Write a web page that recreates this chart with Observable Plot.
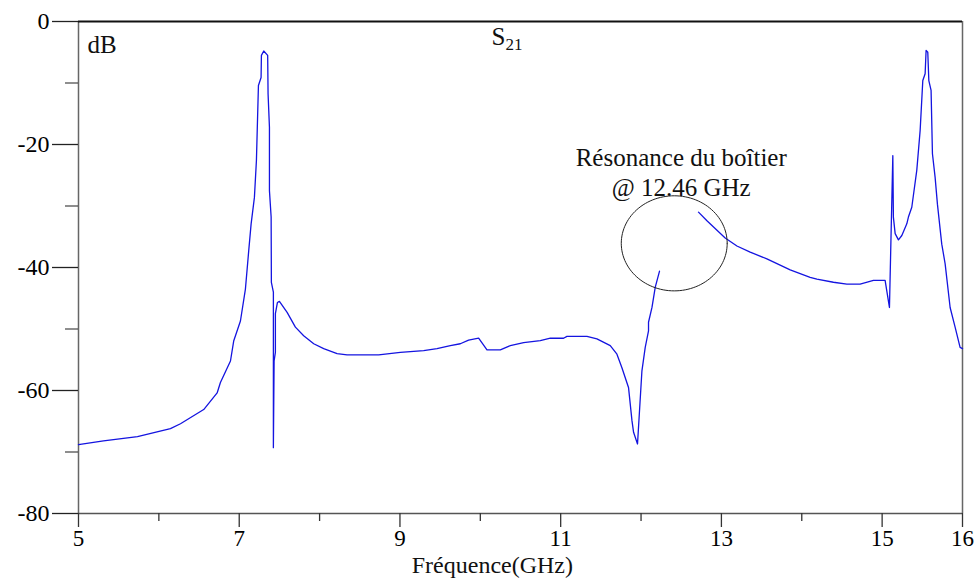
<!DOCTYPE html>
<html><head><meta charset="utf-8">
<script src="https://cdn.jsdelivr.net/npm/d3@7"></script>
<script src="https://cdn.jsdelivr.net/npm/@observablehq/plot@0.6"></script>
<style>
html,body{margin:0;padding:0;background:#fff}
svg{display:block}
</style>
</head><body><div id="chart"></div>
<script>
// Segment 1 of the S21 trace (5 GHz to about 12.23 GHz)
const freqA = [5.000,5.311,5.734,6.144,6.269,6.558,6.725,6.766,6.891,6.932,7.015,7.077,7.118,7.148,7.189,7.214,7.239,7.272,7.276,7.305,7.354,7.359,7.376,7.376,7.397,7.400,7.425,7.425,7.434,7.450,7.450,7.475,7.500,7.596,7.699,7.802,7.927,8.051,8.218,8.342,8.735,9.005,9.295,9.461,9.627,9.751,9.854,9.979,10.083,10.249,10.373,10.539,10.746,10.871,11.036,11.078,11.327,11.451,11.617,11.700,11.762,11.844,11.887,11.907,11.956,12.011,12.052,12.093,12.093,12.136,12.177,12.230];
const dbA   = [-68.8,-68.2,-67.5,-66.2,-65.4,-63.1,-60.4,-58.7,-55.2,-51.9,-48.7,-43.5,-37.3,-32.9,-28.6,-22.6,-10.4,-9.1,-5.5,-4.8,-5.5,-11.8,-17.2,-27.5,-31.8,-42.4,-44.0,-69.3,-55.2,-53.8,-47.5,-45.7,-45.5,-47.3,-49.7,-51.1,-52.4,-53.2,-54.0,-54.2,-54.2,-53.8,-53.5,-53.2,-52.7,-52.4,-51.8,-51.5,-53.4,-53.4,-52.7,-52.2,-51.9,-51.5,-51.5,-51.2,-51.2,-51.6,-52.7,-54.1,-56.3,-59.5,-64.9,-66.8,-68.7,-56.8,-53.0,-50.3,-48.9,-46.5,-43.2,-40.6];
// Segment 2 of the S21 trace (about 12.7 GHz to 16 GHz)
const freqB = [12.715,12.820,13.047,13.193,13.358,13.566,13.856,14.104,14.188,14.394,14.561,14.726,14.892,15.037,15.091,15.133,15.140,15.162,15.203,15.245,15.307,15.327,15.369,15.431,15.473,15.506,15.535,15.547,15.568,15.581,15.609,15.626,15.659,15.688,15.742,15.784,15.846,15.908,15.970,16.000];
const dbB   = [-31.0,-32.4,-35.2,-36.5,-37.5,-38.6,-40.4,-41.6,-41.9,-42.4,-42.7,-42.7,-42.1,-42.1,-46.5,-21.8,-31.8,-34.5,-35.5,-34.8,-32.9,-31.8,-30.2,-24.2,-17.7,-9.6,-8.5,-4.7,-5.0,-9.6,-11.2,-21.5,-25.3,-29.7,-36.2,-39.4,-46.5,-49.7,-53.0,-53.2];

const xMajorTicks = [5,7,9,11,13,15,16];
const xMinorTicks = [6,8,10,12,14];
const yMajorTicks = [0,-20,-40,-60,-80];
const yMinorTicks = [-10,-30,-50,-70];
const xLabel = "Fréquence(GHz)";
const yUnit = "dB";
const traceName = "S21";
const annotationText = ["Résonance du boîtier","@ 12.46 GHz"];
// annotation ellipse (centre and radii in data units)
const ellipseCenter = [12.413,-36.07];
const ellipseRadii = [0.659,7.73];

const traceA = freqA.map((f,i)=>({f, db: dbA[i]}));
const traceB = freqB.map((f,i)=>({f, db: dbB[i]}));
const ellipse = d3.range(0,121).map(k=>{
  const t = 2*Math.PI*k/120;
  return {f: ellipseCenter[0] + ellipseRadii[0]*Math.cos(t), db: ellipseCenter[1] + ellipseRadii[1]*Math.sin(t)};
});

const FONT = '"Liberation Serif","Times New Roman",serif';

const chart = Plot.plot({
  width: 976,
  height: 581,
  marginLeft: 78,
  marginRight: 14,
  marginTop: 21,
  marginBottom: 68,
  style: {fontFamily: FONT, fontSize: "22px", color: "#000", background: "#fff", overflow: "visible"},
  x: {domain: [5,16]},
  y: {domain: [-80,0]},
  marks: [
    // frame
    Plot.ruleX([5,16], {y1: -80, y2: 0, stroke: "#666", strokeWidth: 1.5}),
    Plot.ruleY([-80], {x1: 5, x2: 16, stroke: "#555", strokeWidth: 1.5}),
    Plot.ruleY([0], {x1: 5, x2: 16, stroke: "#111", strokeWidth: 1.8}),
    // axes
    Plot.axisY(yMajorTicks, {tickSize: 26, tickPadding: 3, stroke: "#222", strokeWidth: 1.3, fontSize: 24, label: null, tickFormat: d=>String(d)}),
    Plot.axisY(yMinorTicks, {tickSize: 13, stroke: "#444", strokeWidth: 1.2, label: null, tickFormat: ()=>""}),
    Plot.axisX(xMajorTicks, {tickSize: 14, tickPadding: 2, stroke: "#333", strokeWidth: 1.3, fontSize: 23, label: null, tickFormat: d=>String(d)}),
    Plot.axisX(xMinorTicks, {tickSize: 8, stroke: "#333", strokeWidth: 1.3, label: null, tickFormat: ()=>""}),
    // data
    Plot.line(traceA, {x: "f", y: "db", stroke: "#1414e0", strokeWidth: 1.3}),
    Plot.line(traceB, {x: "f", y: "db", stroke: "#1414e0", strokeWidth: 1.3}),
    // annotation
    Plot.line(ellipse, {x: "f", y: "db", stroke: "#222", strokeWidth: 1}),
    Plot.text([annotationText.join("\n")], {x: 12.5, y: -20.0, text: d=>d, textAnchor: "middle", lineAnchor: "top", lineHeight: 1.2, fontSize: 25, fill: "#111"}),
    // labels
    Plot.text([yUnit], {x: 5, y: -2.2, dx: 9, text: d=>d, textAnchor: "start", lineAnchor: "top", fontSize: 25, fill: "#111"}),
    Plot.text([traceName], {x: 10.14, y: -1.0, text: d=>d, textAnchor: "start", lineAnchor: "top", fontSize: 25, fill: "#111", className: "s21"}),
    Plot.text([xLabel], {x: 10.15, y: -80, dy: 59, text: d=>d, textAnchor: "middle", lineAnchor: "bottom", fontSize: 24, fill: "#111"})
  ]
});

// render the subscript of S21
d3.select(chart).selectAll(".s21 text").each(function(){
  const t = d3.select(this);
  const txt = t.text();
  t.text(null);
  t.append("tspan").text(txt.slice(0,1));
  t.append("tspan").attr("font-size", 17).attr("dy", "0.3em").text(txt.slice(1));
});

document.getElementById("chart").appendChild(chart);
</script>
</body></html>
